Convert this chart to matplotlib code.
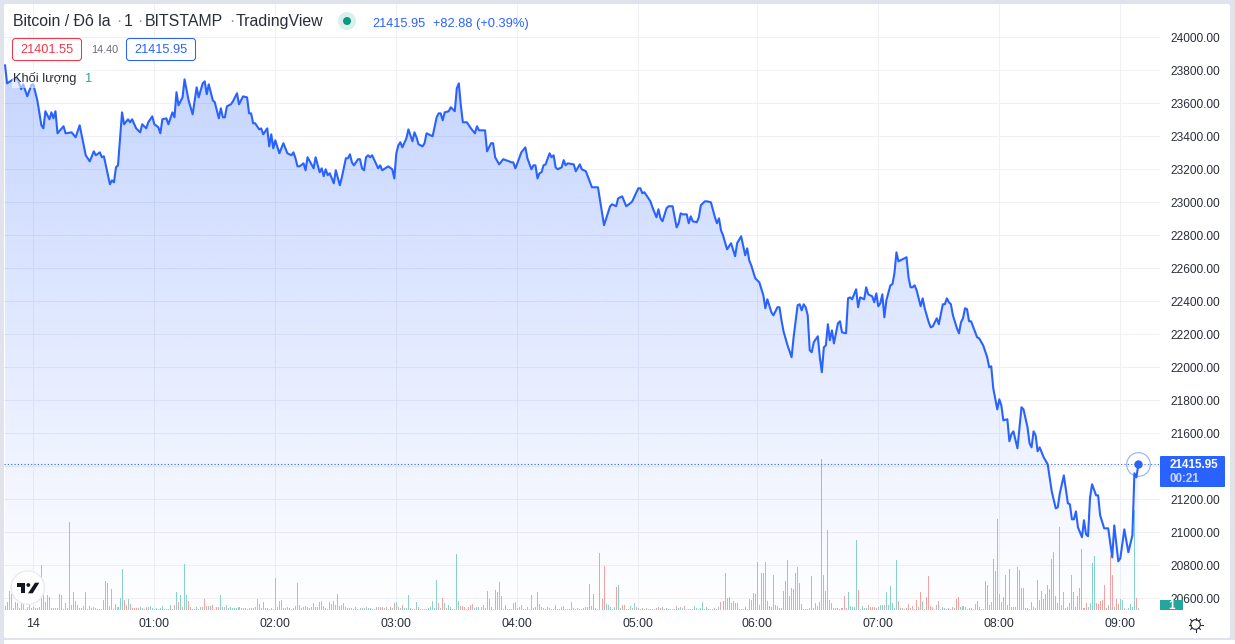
import numpy as np
import matplotlib
matplotlib.use('Agg')
import matplotlib.pyplot as plt
from matplotlib.patches import Rectangle, Circle, Polygon, FancyBboxPatch
from matplotlib.transforms import ScaledTranslation

### Price line: minute index (0 = 00:00) and price at each turning point
minute = [
	-14, -13, -10, -8, -6, -5, -3, -1, 0, 2,
	4, 5, 6, 8, 9, 10, 11, 12, 15, 16,
	19, 21, 23, 26, 28, 30, 31, 33, 34, 35,
	38, 39, 40, 41, 42, 44, 45, 47, 48, 49,
	51, 53, 54, 56, 57, 59, 60, 62, 63, 64,
	66, 67, 69, 70, 71, 72, 74, 75, 77, 79,
	81, 82, 84, 85, 86, 87, 89, 90, 92, 93,
	94, 95, 96, 98, 99, 101, 102, 104, 106, 107,
	108, 109, 110, 112, 113, 114, 116, 117, 118, 119,
	120, 122, 124, 126, 128, 129, 130, 131, 132, 134,
	135, 136, 139, 140, 142, 143, 144, 145, 146, 147,
	149, 150, 152, 153, 155, 156, 157, 158, 159, 161,
	162, 163, 164, 165, 166, 167, 168, 171, 172, 173,
	176, 178, 179, 180, 181, 182, 183, 185, 186, 188,
	189, 190, 191, 193, 194, 195, 198, 200, 201, 202,
	203, 204, 206, 207, 209, 210, 211, 212, 213, 215,
	217, 219, 220, 221, 224, 225, 227, 228, 229, 231,
	233, 236, 237, 238, 239, 240, 242, 244, 245, 247,
	248, 249, 250, 251, 252, 253, 254, 256, 257, 258,
	259, 260, 262, 263, 264, 265, 268, 269, 271, 272,
	274, 277, 280, 283, 286, 287, 289, 290, 292, 294,
	296, 297, 300, 301, 302, 303, 306, 307, 309, 310,
	311, 312, 314, 315, 317, 319, 320, 321, 322, 324,
	325, 326, 327, 329, 330, 331, 333, 334, 336, 338,
	339, 340, 341, 342, 344, 346, 348, 349, 351, 353,
	354, 355, 356, 358, 360, 362, 363, 364, 366, 367,
	369, 370, 371, 372, 374, 376, 377, 379, 380, 381,
	382, 383, 384, 385, 386, 387, 389, 390, 391, 392,
	393, 394, 395, 396, 397, 399, 400, 401, 403, 404,
	405, 406, 408, 409, 410, 412, 413, 414, 416, 417,
	418, 419, 420, 421, 422, 423, 425, 426, 427, 428,
	429, 433, 434, 435, 436, 437, 438, 440, 441, 442,
	444, 445, 446, 448, 449, 451, 452, 453, 454, 455,
	456, 458, 459, 460, 461, 462, 463, 464, 465, 468,
	469, 471, 473, 474, 475, 476, 478, 479, 480, 481,
	483, 484, 485, 486, 488, 490, 491, 493, 494, 495,
	496, 497, 498, 499, 501, 503, 505, 507, 508, 509,
	511, 513, 514, 515, 516, 517, 518, 520, 521, 522,
	523, 524, 525, 527, 528, 529, 531, 533, 535, 536,
	538, 539, 541, 543, 545, 546, 547, 548]

price = [
	23830, 23721, 23745, 23752, 23685, 23715, 23642, 23709, 23715, 23618,
	23467, 23448, 23552, 23503, 23545, 23509, 23552, 23418, 23461, 23418,
	23424, 23394, 23467, 23285, 23248, 23309, 23285, 23303, 23273, 23279,
	23109, 23133, 23121, 23212, 23224, 23545, 23473, 23503, 23485, 23503,
	23448, 23424, 23473, 23448, 23485, 23521, 23473, 23455, 23418, 23503,
	23509, 23473, 23545, 23515, 23667, 23588, 23636, 23745, 23618, 23533,
	23697, 23636, 23721, 23733, 23655, 23715, 23618, 23606, 23509, 23570,
	23515, 23515, 23582, 23594, 23612, 23661, 23594, 23642, 23636, 23539,
	23539, 23479, 23479, 23442, 23448, 23412, 23448, 23339, 23412, 23327,
	23376, 23297, 23358, 23297, 23285, 23303, 23267, 23218, 23218, 23236,
	23194, 23273, 23206, 23273, 23182, 23206, 23158, 23200, 23164, 23176,
	23115, 23194, 23103, 23152, 23267, 23267, 23291, 23242, 23224, 23261,
	23261, 23206, 23194, 23273, 23285, 23273, 23285, 23206, 23224, 23194,
	23218, 23200, 23145, 23297, 23345, 23364, 23333, 23388, 23442, 23370,
	23424, 23394, 23352, 23339, 23358, 23418, 23400, 23515, 23539, 23539,
	23497, 23545, 23552, 23576, 23552, 23691, 23721, 23588, 23485, 23485,
	23448, 23418, 23461, 23436, 23436, 23309, 23358, 23358, 23273, 23230,
	23261, 23248, 23242, 23242, 23206, 23236, 23303, 23333, 23267, 23200,
	23224, 23224, 23145, 23176, 23182, 23224, 23230, 23297, 23273, 23285,
	23212, 23200, 23212, 23255, 23224, 23236, 23230, 23188, 23230, 23200,
	23188, 23091, 23091, 22861, 22976, 22988, 22976, 23024, 23036, 22976,
	22994, 23006, 23085, 23085, 23055, 23061, 23006, 22970, 22909, 22958,
	22903, 22885, 22964, 22976, 22976, 22848, 22873, 22933, 22927, 22927,
	22873, 22915, 22885, 22879, 22909, 22982, 23006, 23006, 23000, 22909,
	22873, 22903, 22830, 22800, 22715, 22752, 22673, 22752, 22794, 22679,
	22721, 22648, 22618, 22539, 22515, 22436, 22358, 22412, 22333, 22315,
	22364, 22364, 22285, 22218, 22133, 22061, 22182, 22376, 22382, 22345,
	22382, 22364, 22315, 22103, 22091, 22152, 22188, 22061, 21970, 22121,
	22133, 22261, 22164, 22224, 22145, 22267, 22279, 22212, 22206, 22418,
	22424, 22412, 22473, 22364, 22424, 22412, 22485, 22442, 22430, 22394,
	22448, 22370, 22388, 22442, 22303, 22406, 22497, 22503, 22570, 22697,
	22642, 22667, 22545, 22485, 22485, 22497, 22467, 22370, 22418, 22358,
	22273, 22242, 22248, 22297, 22261, 22382, 22382, 22418, 22394, 22382,
	22315, 22236, 22206, 22273, 22297, 22358, 22352, 22279, 22279, 22182,
	22176, 22133, 22061, 22000, 22006, 21873, 21745, 21806, 21770, 21679,
	21685, 21552, 21594, 21612, 21509, 21758, 21745, 21636, 21539, 21515,
	21612, 21588, 21491, 21515, 21455, 21412, 21248, 21145, 21152, 21236,
	21345, 21176, 21170, 21079, 21079, 21127, 21030, 20970, 21073, 20988,
	20976, 21212, 21291, 21224, 21224, 21103, 21024, 21024, 20848, 21042,
	20824, 20842, 21018, 20879, 20982, 21358, 21333, 21415.95]

### Volume per minute, one list per hour. Positive = up (green), negative = down (red)
vol_pre = [4, -8, -19, 16, -2, 8, -7, 2, -8, -7, 1, -3, 6, 2]
vol_00 = [3, 2, 2, -3, -45, -21, 8, -15, -13, 2, 2, 2, 2, -16, 15, 1, -7, 2, 88, 5,
	-18, -9, 5, 2, 2, -4, -18, 1, 4, 2, 3, 2, 1, 1, 1, 10, -29, -27, -4, 21,
	1, 6, 3, 12, 41, -10, -5, 11, -6, -2, -2, -2, -2, 3, 2, 1, -3, -3, 4, 2]
vol_01 = [1, 2, 1, 2, 4, 1, 1, 1, 5, 1, -5, 18, -8, 15, -3, 46, 15, -9, -3, 1,
	1, 3, 1, 3, -3, -11, -4, 4, -4, -5, 1, -3, -3, 15, 3, -3, 5, 2, 3, 2,
	2, 2, 3, 2, 2, 2, 1, 2, 2, -2, -3, -11, -6, 2, -8, 2, 2, 1, 2, 1]
vol_02 = [32, -3, -9, 10, 2, -2, -3, -2, 1, 2, -4, -27, -5, 2, 3, -4, 3, -2, -3, 7,
	3, 3, -8, 9, -4, 2, 1, 8, -6, -9, 5, -16, -4, 5, 7, 3, 2, 2, 2, 1,
	-3, 1, 2, 2, -2, 3, 2, 2, 1, 1, -3, 3, -3, -3, 2, -3, 1, -3, 2, -7]
vol_03 = [8, -3, 2, -5, 2, 2, 15, -2, -1, 1, 8, -3, 1, 1, 1, 1, 2, 3, 9, 2,
	30, -7, 2, -12, 7, -2, 5, 3, -1, -1, 56, 9, -4, -4, -3, -1, -3, -5, -6, 2,
	3, 3, -3, 5, 2, -19, -11, 3, 1, -20, -18, -28, 14, 1, 5, 1, -1, 1, 7, -8]
vol_04 = [2, 3, 5, 1, 1, -3, 1, -15, 2, 3, -18, 6, -3, 2, 1, 3, 2, 1, 1, -5,
	1, 1, 3, 4, 1, 1, 1, 8, -2, 1, 2, 1, 1, -2, -3, -3, -26, -4, -16, -2,
	1, -57, -11, -44, 6, 5, 3, 1, 3, -23, 25, 2, -5, -5, 1, -1, 4, -2, 7, -3]
vol_05 = [2, 1, -2, 1, 2, -1, -1, -1, -1, -2, 3, -2, -3, 1, 2, 1, 1, 1, 1, -4,
	2, 3, 2, -4, 1, 1, 1, 1, 4, 2, 1, 2, 8, -1, 3, 1, 1, 1, -2, 1,
	3, -8, -9, 37, -12, -13, 7, -9, -7, 7, 1, 1, 1, -3, 1, -11, -10, -17, -16]
vol_06 = [-48, 5, -37, -37, -48, 9, -4, -3, -35, -5, 4, 2, 2, -19, -29, -50, -14, -22, 21, 37,
	43, -27, -6, -1, -1, -1, -2, -34, 2, 7, 4, -8, -151, 35, 19, 80, -10, 7, 2, 2,
	2, -1, -2, -14, -2, 18, 4, 3, 3, 70, -20, 1, 4, 2, 2, -5, -3, -3, -3, -2]
vol_07 = [3, 5, 5, -5, 18, 5, 24, 7, 2, 50, -9, -2, 2, 1, -2, -6, -2, -4, 1, -10,
	-3, -18, 9, -1, -13, -34, -4, -3, 1, 5, -9, 1, 3, 2, 1, -2, 1, -3, 2, -11,
	-13, 3, 4, 3, 1, -2, 2, -1, 6, -9, 3, -1, -1, -29, -25, 5, 8, -51, -39, -91]
vol_08 = [16, -8, -13, -35, -5, -41, -3, -3, -3, -43, 40, 22, 22, -2, 2, 1, -8, 3, 2, -30,
	-10, -19, -11, -16, -25, -21, -51, -58, -14, 7, 83, 5, 18, -2, -3, -7, -35, -18, 3, -14,
	-22, -61, -2, -7, -3, 7, 47, 54, -7, -6, -9, -10, -25, -2, 5, -55, -35, 3, -11, -6]
vol_09 = [11, 10, -2, 1, 2, 6, 3, 100, -12, 2]

price_ticks = [20600, 20800, 21000, 21200, 21400, 21600, 21800, 22000, 22200, 22400,
	22600, 22800, 23000, 23200, 23400, 23600, 23800, 24000]
time_ticks = [0, 60, 120, 180, 240, 300, 359, 419, 479, 539]
time_labels = ['14', '01:00', '02:00', '03:00', '04:00', '05:00', '06:00', '07:00', '08:00', '09:00']

last_price = 21415.95

W, H = 1235, 644
BLUE = '#2962ff'
TEAL = '#26a69a'
RED = '#f23645'
TEXT = '#2a2e39'
FONT = 'Liberation Sans'
plt.rcParams['font.family'] = FONT

fig = plt.figure(figsize=(W / 100, H / 100), dpi=100, facecolor='#e0e3eb')

### Page chrome, in pixel coordinates
def pixel_axes(zorder):
	a = fig.add_axes([0, 0, 1, 1], zorder=zorder)
	a.set_xlim(0, W)
	a.set_ylim(H, 0)
	a.axis('off')
	return a

back = pixel_axes(0)
back.add_patch(FancyBboxPatch((4, 4), 1226, 634, boxstyle='round,pad=0,rounding_size=2', fc='white', ec='none'))
back.add_patch(Rectangle((4, 640), 1231, 4, fc='white', ec='none'))

### Main chart. Pixel layout: plot area x 4-1160, y 4-610
left, right, top, bottom = 4, 1160, 4, 610
pos = [left / W, 1 - bottom / H, (right - left) / W, (bottom - top) / H]
x_to_px = 2.0167
y_to_px = 33.0 / 200
x_lim = ((left - 33.3) / x_to_px, (right - 33.3) / x_to_px)
y_lim = (24000 - (bottom - 37.3) / y_to_px, 24000 - (top - 37.3) / y_to_px)

ax = fig.add_axes(pos, zorder=3)
ax.patch.set_visible(False)
ax.set_xlim(x_lim)
ax.set_ylim(y_lim)
for s in ax.spines.values():
	s.set_visible(False)
ax.yaxis.tick_right()
ax.set_yticks(price_ticks)
# the 21400 label is hidden behind the last price tag in the original
ax.set_yticklabels(['' if p == 21400 else '%.2f' % p for p in price_ticks], fontsize=8.6, color=TEXT)
ax.set_xticks(time_ticks)
ax.set_xticklabels(time_labels, fontsize=8.9, color=TEXT)
ax.tick_params(axis='y', length=0, pad=7.2)
ax.tick_params(axis='x', length=0, pad=6.1)
for lbl in ax.get_xticklabels():
	lbl.set_transform(lbl.get_transform() + ScaledTranslation(-0.7 / 100, 0, fig.dpi_scale_trans))

### Grid goes on its own axes so the volume bars draw over it
ax_grid = fig.add_axes(pos, zorder=1)
ax_grid.patch.set_visible(False)
ax_grid.set_xlim(x_lim)
ax_grid.set_ylim(y_lim)
for s in ax_grid.spines.values():
	s.set_visible(False)
ax_grid.set_yticks(price_ticks)
ax_grid.set_xticks(time_ticks)
ax_grid.tick_params(length=0, labelleft=False, labelbottom=False)
ax_grid.grid(True, color='#eef0f5', lw=0.72)

### Volume bars sit under the price area, 1 unit = 1 pixel high
ax_vol = fig.add_axes(pos, zorder=2)
ax_vol.set_xlim(x_lim)
ax_vol.set_ylim(0, bottom - top)
ax_vol.axis('off')
volume = np.array(vol_pre + vol_00 + vol_01 + vol_02 + vol_03 + vol_04 + vol_05 + vol_06 + vol_07 + vol_08 + vol_09)
vol_x = np.arange(len(volume)) - len(vol_pre)
ax_vol.bar(vol_x[volume > 0], volume[volume > 0], width=0.5, color='#8ad3c9', lw=0)
ax_vol.bar(vol_x[volume < 0], -volume[volume < 0], width=0.5, color='#f5a3a1', lw=0)

### Area under the line, fading downwards
poly = ax.fill_between(minute, price, y_lim[0], facecolor='none', edgecolor='none')
grad = np.zeros((256, 1, 4))
grad[..., 0], grad[..., 1], grad[..., 2] = 41 / 255, 98 / 255, 1.0
grad[:, 0, 3] = np.linspace(0.30, 0.0, 256)
img = ax.imshow(grad, extent=(x_lim[0], x_lim[1], y_lim[0], y_lim[1]), aspect='auto', origin='upper', zorder=2)
img.set_clip_path(poly.get_paths()[0], ax.transData)
ax.set_xlim(x_lim)
ax.set_ylim(y_lim)

ax.plot(minute, price, color=BLUE, lw=1.5, zorder=3, solid_joinstyle='round')
ax.axhline(last_price, color=BLUE, lw=0.8, ls=(0, (1, 2)), zorder=3)
ax.plot([minute[-1]], [last_price], 'o', ms=5, color=BLUE, zorder=4)
ax.plot([minute[-1]], [last_price], 'o', ms=17, mfc='none', mec=BLUE, mew=0.8, alpha=0.5, zorder=4)

### Overlay: legend, price label, logo
over = pixel_axes(5)
over.add_patch(Rectangle((12, 68), 82, 20, fc='white', ec='none', alpha=0.55))

title_parts = [('Bitcoin / Đô la', 13, TEXT), ('·', 116, '#9598a1'), ('1', 124, TEXT), ('·', 137, '#9598a1'),
	('BITSTAMP', 145, TEXT), ('·', 229, '#9598a1'), ('TradingView', 236, TEXT)]
for s, x, c in title_parts:
	over.text(x, 21, s, fontsize=11.4, color=c, va='center', ha='left')

over.add_patch(Circle((347, 21), 9, fc='#daf0ec', ec='none'))
over.add_patch(Circle((347, 21), 4, fc='#089981', ec='none'))
over.text(372, 23.5, '21415.95', fontsize=9.2, color=BLUE, va='center')
over.text(433, 23.5, '+82.88 (+0.39%)', fontsize=9.3, color=BLUE, va='center')

over.add_patch(FancyBboxPatch((12.5, 38.5), 69, 22, boxstyle='round,pad=0,rounding_size=3', fc='white', ec=RED, lw=0.75))
over.text(47, 50, '21401.55', fontsize=9.2, color=RED, va='center', ha='center')
over.text(104.5, 50, '14.40', fontsize=7.8, color='#6a6d78', va='center', ha='center')
over.add_patch(FancyBboxPatch((126.5, 38.5), 69, 22, boxstyle='round,pad=0,rounding_size=3', fc='white', ec=BLUE, lw=0.75))
over.text(161, 50, '21415.95', fontsize=9.2, color=BLUE, va='center', ha='center')

over.text(13, 78, 'Khối lượng', fontsize=9.3, color=TEXT, va='center')
over.text(85, 79, '1', fontsize=9.2, color=TEAL, va='center')

### Last price tag and volume tag on the price axis
over.add_patch(FancyBboxPatch((1160, 456), 65, 31, boxstyle='round,pad=0,rounding_size=1', fc=BLUE, ec='none'))
over.text(1170, 465, '21415.95', fontsize=8.4, color='white', va='center', weight='bold')
over.text(1170, 479, '00:21', fontsize=8.4, color='#c9d8ff', va='center', weight='bold')
tag = Rectangle((1160, 600), 23, 10, fc=TEAL, ec='none')
over.add_patch(tag)
t = over.text(1172, 606, '1', fontsize=8.6, color='white', va='center', ha='center', weight='bold')
t.set_clip_path(tag)

### TradingView logo badge
over.add_patch(Circle((27.8, 587.6), 16.7, fc='white', ec='#eaebef', lw=1))
over.add_patch(Polygon([(16.7, 582.7), (25, 582.7), (25, 593.3), (20.7, 593.3), (20.7, 587.3), (16.7, 587.3)], fc='#131722', ec='none'))
over.add_patch(Circle((28.3, 585), 1.9, fc='#131722', ec='none'))
over.add_patch(Polygon([(35, 582.7), (39.3, 582.7), (32.7, 593.3), (28, 593.3)], fc='#131722', ec='none'))

### Settings gear
over.add_patch(Circle((1195.5, 624.5), 4.8, fc='none', ec=TEXT, lw=0.8))
for a in np.arange(8) * np.pi / 4:
	over.plot([1195.5 + 4.8 * np.cos(a), 1195.5 + 7 * np.cos(a)], [624.5 + 4.8 * np.sin(a), 624.5 + 7 * np.sin(a)], color=TEXT, lw=0.8)

fig.savefig('out.png', dpi=100, facecolor=fig.get_facecolor())
plt.close()
